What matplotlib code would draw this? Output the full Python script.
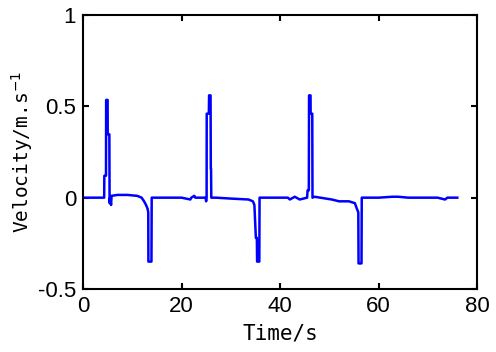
"""Velocity trace vs time (MATLAB-style line plot)."""

import matplotlib
matplotlib.use("Agg")
import matplotlib.pyplot as plt
from matplotlib import font_manager

# ---------------------------------------------------------------------------
# Data
# ---------------------------------------------------------------------------
TIME = [
    0.0, 4.3, 4.33, 4.67, 4.7, 5.0, 5.02, 5.35, 5.4, 5.5, 5.7, 5.8,
    7.0, 9.0, 11.0, 11.9, 12.4, 12.8, 13.1, 13.25, 13.28, 13.9, 13.95,
    17.0, 20.0, 21.8, 22.0, 22.6, 22.8, 23.5, 24.9, 25.0, 25.1, 25.12,
    25.55, 25.6, 25.9, 25.95, 26.0, 26.05, 27.0, 30.0, 33.6, 34.5, 34.8,
    34.9, 35.1, 35.3, 35.35, 35.8, 35.85, 38.0, 41.6, 42.0, 43.0, 44.0,
    45.5, 45.6, 45.85, 45.9, 46.2, 46.22, 46.55, 46.6, 47.0, 50.5, 52.0,
    54.0, 55.2, 55.6, 55.9, 55.95, 56.55, 56.6, 60.0, 62.8, 64.0, 66.0,
    72.0, 73.5, 74.0, 76.0,
]
VELOCITY = [
    0.0, 0.0, 0.12, 0.12, 0.535, 0.535, 0.347, 0.347, -0.03, 0.0, -0.04, 0.01,
    0.015, 0.015, 0.01, 0.0, -0.02, -0.04, -0.06, -0.08, -0.35, -0.35, 0.0,
    0.0, 0.0, -0.01, 0.0, 0.01, 0.0, 0.0, 0.0, -0.02, 0.0, 0.46,
    0.46, 0.56, 0.56, 0.16, 0.16, 0.0, 0.0, -0.005, -0.01, -0.02, -0.04,
    -0.1, -0.22, -0.22, -0.35, -0.35, 0.0, 0.0, 0.0, -0.01, 0.005, -0.01,
    0.0, 0.04, 0.04, 0.56, 0.56, 0.46, 0.46, 0.0, 0.005, -0.01, -0.02,
    -0.02, -0.03, -0.06, -0.08, -0.36, -0.36, 0.0, 0.0, 0.005, 0.005, 0.0,
    0.0, -0.01, 0.0, 0.0,
]

X_TICKS = [0, 20, 40, 60, 80]
Y_TICKS = [-0.5, 0, 0.5, 1]
Y_TICK_LABELS = ["-0.5", "0", "0.5", "1"]

# ---------------------------------------------------------------------------
# Fonts
# ---------------------------------------------------------------------------
_names = {f.name for f in font_manager.fontManager.ttflist}
TICK_FONT = "Liberation Sans Narrow" if "Liberation Sans Narrow" in _names else "Liberation Sans"
LABEL_FONT = "DejaVu Sans Mono"

# ---------------------------------------------------------------------------
# Figure
# ---------------------------------------------------------------------------
fig = plt.figure(figsize=(4.96, 3.52), dpi=100)
ax = fig.add_axes([83 / 496, 63 / 352, 394 / 496, 274 / 352])

ax.plot(TIME, VELOCITY, color="#0000ff", lw=1.8)

ax.set_xlim(0, 80)
ax.set_ylim(-0.5, 1)
ax.set_xticks(X_TICKS)
ax.set_yticks(Y_TICKS)
ax.set_yticklabels(Y_TICK_LABELS)

for sp in ax.spines.values():
    sp.set_linewidth(1.5)
    sp.set_color("black")

ax.tick_params(direction="in", length=4, width=1.5, top=True, right=True,
               labelsize=16, pad=5)
for lab in ax.get_xticklabels() + ax.get_yticklabels():
    lab.set_fontfamily(TICK_FONT)

ax.set_xlabel("Time/s", family=LABEL_FONT, fontsize=15, labelpad=5)
ax.set_ylabel(r"Velocity/m.s$^{-1}$", family=LABEL_FONT, fontsize=14, labelpad=2)

fig.savefig("out.png", dpi=100)
